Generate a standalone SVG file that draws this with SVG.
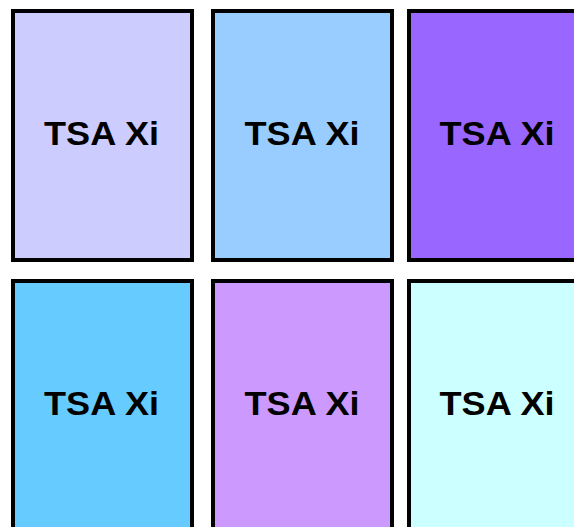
<svg xmlns="http://www.w3.org/2000/svg" width="574" height="527" viewBox="0 0 574 527">
<style>
.box{stroke:#000;stroke-width:4}
.lbl{font-family:"Liberation Sans",Arial,sans-serif;font-weight:bold;font-size:33px;text-anchor:middle;fill:#000}
</style>
<rect width="574" height="527" fill="#fff"/>
<g id="n1"><rect class="box" x="13" y="11" width="179" height="249" fill="#CCCCFF"/><text class="lbl" x="101.5" y="145" textLength="115" lengthAdjust="spacingAndGlyphs">TSA Xi</text></g>
<g id="n2"><rect class="box" x="213" y="11" width="179" height="249" fill="#99CCFF"/><text class="lbl" x="302" y="145" textLength="115" lengthAdjust="spacingAndGlyphs">TSA Xi</text></g>
<g id="n3"><rect class="box" x="409" y="11" width="179" height="249" fill="#9966FF"/><text class="lbl" x="497" y="145" textLength="115" lengthAdjust="spacingAndGlyphs">TSA Xi</text></g>
<g id="n4"><rect class="box" x="13" y="281" width="179" height="249" fill="#66CCFF"/><text class="lbl" x="101.5" y="415" textLength="115" lengthAdjust="spacingAndGlyphs">TSA Xi</text></g>
<g id="n5"><rect class="box" x="213" y="281" width="179" height="249" fill="#CC99FF"/><text class="lbl" x="302" y="415" textLength="115" lengthAdjust="spacingAndGlyphs">TSA Xi</text></g>
<g id="n6"><rect class="box" x="409" y="281" width="179" height="249" fill="#CCFFFF"/><text class="lbl" x="497" y="415" textLength="115" lengthAdjust="spacingAndGlyphs">TSA Xi</text></g>
<g id="connectors"/>
</svg>
